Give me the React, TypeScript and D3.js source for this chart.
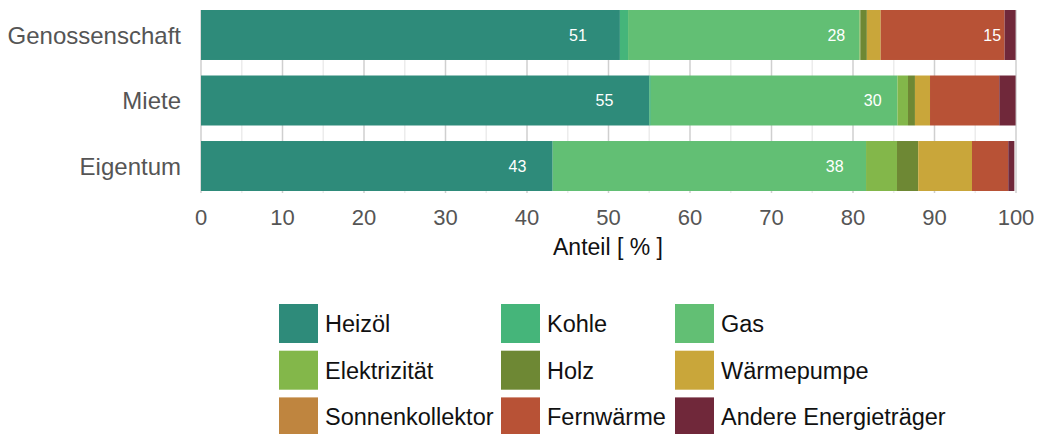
import React from 'react';
import * as d3 from 'd3';

// Wohnverhältnis
const categories = ['Genossenschaft', 'Miete', 'Eigentum'];

// energy carriers, in stacking order
const seriesNames = [
  'Heizöl', 'Kohle', 'Gas',
  'Elektrizität', 'Holz', 'Wärmepumpe',
  'Sonnenkollektor', 'Fernwärme', 'Andere Energieträger',
];
const seriesColors = [
  '#2e8b7a', '#45b57a', '#62bf74',
  '#83b74a', '#6e8834', '#c9a63a',
  '#bf853f', '#b85236', '#70283a',
];

// share in % per category (Genossenschaft, Miete, Eigentum)
const heizoel = [51.4, 55.0, 43.15];
const kohle = [1.0, 0.2, 0];
const gas = [28.4, 30.25, 38.45];
const elektrizitaet = [0.1, 1.3, 3.8];
const holz = [0.8, 0.85, 2.6];
const waermepumpe = [1.7, 1.85, 6.6];
const sonnenkollektor = [0, 0, 0];
const fernwaerme = [15.2, 8.5, 4.45];
const andere = [1.35, 2.0, 0.75];

const xTicks = [0, 10, 20, 30, 40, 50, 60, 70, 80, 90, 100];
const xTitle = 'Anteil [ % ]';

const seriesValues = [heizoel, kohle, gas, elektrizitaet, holz, waermepumpe, sonnenkollektor, fernwaerme, andere];

const font = '"Liberation Sans", Arial, Helvetica, sans-serif';

export default function App() {
  const width = 1037;
  const height = 434;

  const x = d3.scaleLinear().domain([0, 100]).range([201, 1016]);
  const y = d3.scaleBand<string>().domain(categories).range([10, 191]).paddingInner(0.237).paddingOuter(0);

  const rows = categories.map((c, i) => {
    const r: Record<string, any> = { cat: c };
    seriesNames.forEach((s, j) => { r[s] = seriesValues[j][i]; });
    return r;
  });
  const stacked = d3.stack<any>().keys(seriesNames)(rows);

  const minorTicks = d3.range(5, 100, 10);

  return (
    <svg width={width} height={height} style={{ position: 'absolute', left: 0, top: 0 }} fontFamily={font}>
      {/* grid */}
      {minorTicks.map(t => (
        <line key={'m' + t} x1={x(t)} x2={x(t)} y1={10} y2={193} stroke="#ececec" strokeWidth={1.5} />
      ))}
      {xTicks.map(t => (
        <line key={'g' + t} x1={x(t)} x2={x(t)} y1={10} y2={193} stroke="#cfcfcf" strokeWidth={1.5} />
      ))}

      {/* bars */}
      {stacked.map((layer, j) => (
        <g key={layer.key} fill={seriesColors[j]}>
          {layer.map((d, i) => (
            <rect key={i} x={x(d[0])} y={y(categories[i])} width={Math.max(0, x(d[1]) - x(d[0]))} height={y.bandwidth()} />
          ))}
        </g>
      ))}

      {/* value labels */}
      {stacked.map((layer) => layer.map((d, i) => {
        const v = d[1] - d[0];
        if (v < 10) return null;
        return (
          <text key={layer.key + i} x={x(d[0] + 0.9 * v)} y={(y(categories[i]) as number) + y.bandwidth() / 2}
            dy="0.36em" textAnchor="middle" fill="#fff" fontSize={16}>
            {Math.round(v)}
          </text>
        );
      }))}

      {/* y labels */}
      {categories.map(c => (
        <text key={c} x={181} y={(y(c) as number) + y.bandwidth() / 2} dy="0.36em" textAnchor="end" fill="#555" fontSize={24}>
          {c}
        </text>
      ))}

      {/* x tick labels */}
      {xTicks.map(t => (
        <text key={'t' + t} x={x(t)} y={225} textAnchor="middle" fill="#555" fontSize={22}>{t}</text>
      ))}
      <text x={608} y={255} textAnchor="middle" fill="#111" fontSize={23}>{xTitle}</text>

      {/* legend */}
      {seriesNames.map((s, j) => {
        const col = j % 3;
        const row = Math.floor(j / 3);
        const lx = [279, 501, 675][col];
        const ly = 304 + row * 46.7;
        return (
          <g key={s} transform={`translate(${lx},${ly})`}>
            <rect width={39} height={39} fill={seriesColors[j]} />
            <text x={46} y={19.5} dy="0.36em" fill="#111" fontSize={23.5}>{s}</text>
          </g>
        );
      })}
    </svg>
  );
}
